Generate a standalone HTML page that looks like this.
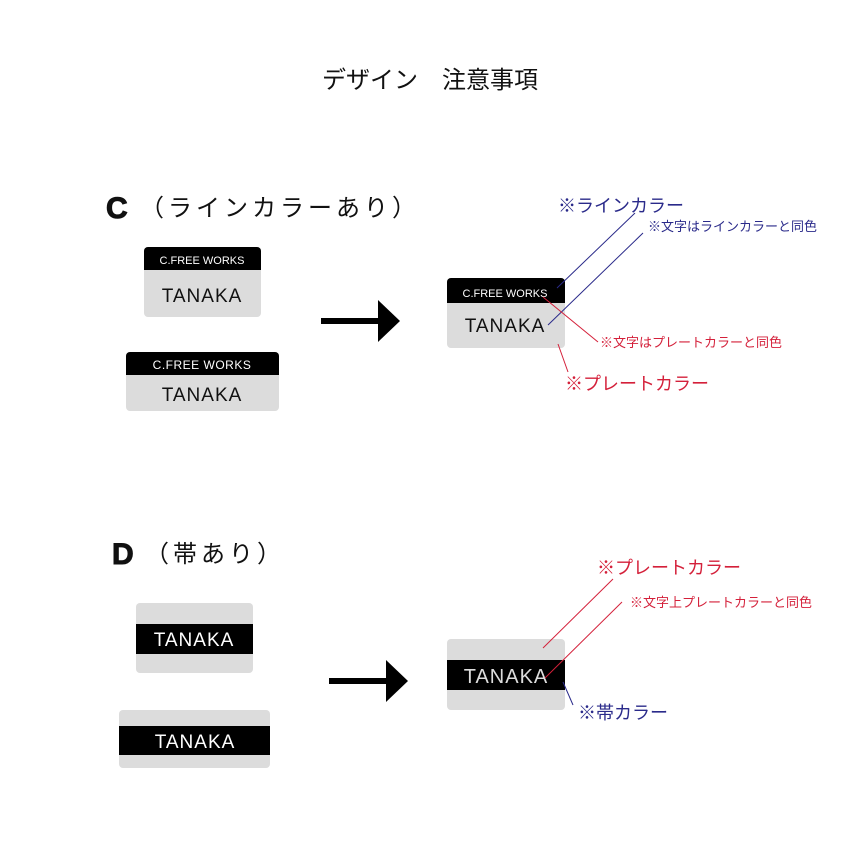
<!DOCTYPE html>
<html><head><meta charset="utf-8"><style>
body{margin:0;background:#fff}
svg text{font-family:"Liberation Sans","Noto Sans CJK JP",sans-serif}
</style></head><body>
<svg width="850" height="850" viewBox="0 0 850 850" xmlns="http://www.w3.org/2000/svg">
<rect width="850" height="850" fill="#fff"/>
<text x="430" y="88" font-size="24" text-anchor="middle" fill="#111">デザイン　注意事項</text>

<text x="106" y="218" font-size="30" font-weight="bold" fill="#111" stroke="#111" stroke-width="1">C</text>
<text x="140" y="216" font-size="24" fill="#111" letter-spacing="4">（ラインカラーあり）</text>

<!-- C plate 1 -->
<rect x="144" y="247" width="117" height="70" rx="4" fill="#dcdcdc"/>
<path d="M148 247H257a4 4 0 0 1 4 4V270H144V251a4 4 0 0 1 4-4z" fill="#000"/>
<text x="202" y="264" font-size="11" fill="#fff" text-anchor="middle">C.FREE WORKS</text>
<text x="202" y="302" font-size="19" fill="#111" text-anchor="middle" letter-spacing="1">TANAKA</text>
<!-- C plate 2 -->
<rect x="126" y="352" width="153" height="59" rx="4" fill="#dcdcdc"/>
<path d="M130 352H275a4 4 0 0 1 4 4V375H126V356a4 4 0 0 1 4-4z" fill="#000"/>
<text x="202" y="369" font-size="12" fill="#fff" text-anchor="middle" letter-spacing="0.5">C.FREE WORKS</text>
<text x="202" y="401" font-size="19" fill="#111" text-anchor="middle" letter-spacing="1">TANAKA</text>

<!-- arrow C -->
<rect x="321" y="318" width="58" height="6" fill="#000"/>
<polygon points="378,300 400,321 378,342" fill="#000"/>

<!-- C right plate -->
<rect x="447" y="278" width="118" height="70" rx="4" fill="#dcdcdc"/>
<path d="M451 278H561a4 4 0 0 1 4 4V303H447V282a4 4 0 0 1 4-4z" fill="#000"/>
<text x="505" y="297" font-size="11" fill="#fff" text-anchor="middle">C.FREE WORKS</text>
<text x="505" y="332" font-size="19" fill="#111" text-anchor="middle" letter-spacing="1">TANAKA</text>
<line x1="557" y1="288" x2="635" y2="213" stroke="#2a2a8a" stroke-width="1"/>
<line x1="548" y1="325" x2="643" y2="233" stroke="#2a2a8a" stroke-width="1"/>
<line x1="543" y1="297" x2="598" y2="342" stroke="#d4203a" stroke-width="1"/>
<line x1="558" y1="344" x2="568" y2="372" stroke="#d4203a" stroke-width="1"/>
<text x="558" y="212" font-size="18" fill="#2a2a8a">※ラインカラー</text>
<text x="648" y="231" font-size="13" fill="#2a2a8a">※文字はラインカラーと同色</text>
<text x="600" y="347" font-size="13" fill="#d4203a">※文字はプレートカラーと同色</text>
<text x="565" y="390" font-size="18" fill="#d4203a">※プレートカラー</text>

<text x="112" y="564" font-size="30" font-weight="bold" fill="#111" stroke="#111" stroke-width="1">D</text>
<text x="145" y="562" font-size="24" fill="#111" letter-spacing="4">（帯あり）</text>

<!-- D plate 1 -->
<rect x="136" y="603" width="117" height="70" rx="4" fill="#dcdcdc"/>
<rect x="136" y="624" width="117" height="30" fill="#000"/>
<text x="194" y="646" font-size="19" fill="#fff" text-anchor="middle" letter-spacing="1">TANAKA</text>
<!-- D plate 2 -->
<rect x="119" y="710" width="151" height="58" rx="4" fill="#dcdcdc"/>
<rect x="119" y="726" width="151" height="29" fill="#000"/>
<text x="195" y="748" font-size="19" fill="#fff" text-anchor="middle" letter-spacing="1">TANAKA</text>

<!-- arrow D -->
<rect x="329" y="678" width="58" height="6" fill="#000"/>
<polygon points="386,660 408,681 386,702" fill="#000"/>

<!-- D right plate -->
<rect x="447" y="639" width="118" height="71" rx="4" fill="#dcdcdc"/>
<rect x="447" y="660" width="118" height="30" fill="#000"/>
<text x="506" y="683" font-size="20" fill="#ddd" text-anchor="middle" letter-spacing="1">TANAKA</text>
<line x1="543" y1="648" x2="613" y2="579" stroke="#d4203a" stroke-width="1"/>
<line x1="545" y1="678" x2="622" y2="602" stroke="#d4203a" stroke-width="1"/>
<line x1="563" y1="682" x2="573" y2="705" stroke="#2a2a8a" stroke-width="1"/>
<text x="597" y="574" font-size="18" fill="#d4203a">※プレートカラー</text>
<text x="630" y="607" font-size="13" fill="#d4203a">※文字上プレートカラーと同色</text>
<text x="578" y="719" font-size="18" fill="#2a2a8a">※帯カラー</text>
</svg>
</body></html>
